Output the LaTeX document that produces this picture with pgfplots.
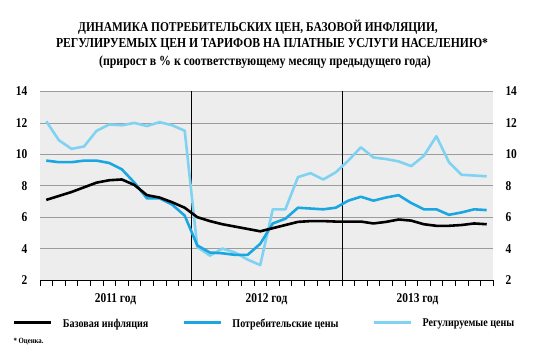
\documentclass[border=0pt]{standalone}
\usepackage{pgfplots}
\pgfplotsset{compat=1.18}
\usepackage{fontspec}
\setmainfont{Liberation Serif}[FakeStretch=0.85]
\definecolor{cpi}{HTML}{1AA7E1}
\definecolor{reg}{HTML}{80D2F2}
\definecolor{bg}{HTML}{EDEDED}
\definecolor{gridc}{HTML}{9C9C9C}
\begin{document}
\begin{tikzpicture}[font=\bfseries]
\path[use as bounding box] (0,0) rectangle (535bp,358bp);
\node[font=\bfseries\fontsize{13.5}{13.5}\selectfont] at (258bp,331bp)
 {ДИНАМИКА ПОТРЕБИТЕЛЬСКИХ ЦЕН, БАЗОВОЙ ИНФЛЯЦИИ,};
\node[font=\bfseries\fontsize{13.8}{13.8}\selectfont] at (272bp,314bp)
 {РЕГУЛИРУЕМЫХ ЦЕН И ТАРИФОВ НА ПЛАТНЫЕ УСЛУГИ НАСЕЛЕНИЮ*};
\node[font=\bfseries\fontsize{14}{14}\selectfont] at (265bp,296bp)
 {(прирост в \% к соответствующему месяцу предыдущего года)};
\node[anchor=west, font=\bfseries\fontsize{8}{8}\selectfont] at (10bp,16bp) {* Оценка.};
\begin{axis}[
  at={(40bp,78bp)}, anchor=south west,
  scale only axis, width=453bp, height=188.5bp,
  xmin=0, xmax=36, ymin=2, ymax=14,
  axis background/.style={fill=bg},
  axis x line*=bottom, axis y line*=left,
  x axis line style={black, line width=0.6pt, -},
  y axis line style={draw=none},
  ytick={2,4,...,14}, ytick style={draw=none},
  ymajorgrids, major grid style={gridc, line width=0.8pt},
  yticklabel style={font=\bfseries\fontsize{13.5}{13.5}\selectfont, xshift=-5bp},
  xtick={6,18,30}, xticklabels={2011 год,2012 год,2013 год},
  major x tick style={draw=none},
  minor xtick={0,1,...,36}, minor tick length=6bp,
  minor x tick style={black, line width=0.6pt},
  tick align=outside,
  xticklabel style={font=\bfseries\fontsize{13.5}{13.5}\selectfont, yshift=-6bp},
  /pgf/number format/assume math mode=true,
  extra x ticks={12,24}, extra x tick labels={},
  extra x tick style={xmajorgrids, major grid style={black, line width=0.7pt}, major tick length=0pt},
  clip=false,
  legend columns=3,
  legend style={at={(-0.0596,-0.228)}, anchor=west, draw=none, fill=none,
    inner sep=0pt, outer sep=0pt,
    font=\bfseries\fontsize{11.9}{11.9}\selectfont,
    /tikz/every odd column/.append style={column sep=10bp},
    /tikz/every even column/.append style={column sep=34bp},
    nodes={inner sep=0pt, outer sep=0pt, text depth=0pt}},
  legend image code/.code={\draw[#1, line width=3pt] (0bp,0bp) -- (37bp,0bp);},
  every axis plot/.append style={line width=2.6pt, line join=round},
]
\addlegendimage{black}\addlegendentry{Базовая инфляция}
\addlegendimage{cpi}\addlegendentry{Потребительские цены}
\addlegendimage{reg}\addlegendentry{Регулируемые цены}
\addplot[reg, mark=none, forget plot] coordinates {
(0.5,12.1)(1.5,10.9)(2.5,10.35)(3.5,10.5)(4.5,11.5)(5.5,11.9)(6.5,11.85)(7.5,12.0)(8.5,11.8)(9.5,12.05)(10.5,11.85)(11.5,11.5)
(12.5,4.1)(13.5,3.55)(14.5,4.0)(15.5,3.75)(16.5,3.3)(17.5,2.95)(18.5,6.5)(19.5,6.5)(20.5,8.55)(21.5,8.8)(22.5,8.4)(23.5,8.85)
(24.5,9.6)(25.5,10.45)(26.5,9.8)(27.5,9.7)(28.5,9.55)(29.5,9.25)(30.5,9.9)(31.5,11.15)(32.5,9.5)(33.5,8.7)(34.5,8.65)(35.5,8.6)};
\addplot[cpi, mark=none, forget plot] coordinates {
(0.5,9.6)(1.5,9.5)(2.5,9.5)(3.5,9.6)(4.5,9.6)(5.5,9.45)(6.5,9.05)(7.5,8.2)(8.5,7.2)(9.5,7.2)(10.5,6.8)(11.5,6.1)
(12.5,4.2)(13.5,3.75)(14.5,3.7)(15.5,3.6)(16.5,3.6)(17.5,4.3)(18.5,5.6)(19.5,5.9)(20.5,6.6)(21.5,6.55)(22.5,6.5)(23.5,6.6)
(24.5,7.05)(25.5,7.3)(26.5,7.05)(27.5,7.25)(28.5,7.4)(29.5,6.9)(30.5,6.5)(31.5,6.5)(32.5,6.15)(33.5,6.3)(34.5,6.5)(35.5,6.45)};
\addplot[black, mark=none, forget plot] coordinates {
(0.5,7.1)(1.5,7.35)(2.5,7.6)(3.5,7.9)(4.5,8.2)(5.5,8.35)(6.5,8.4)(7.5,8.05)(8.5,7.4)(9.5,7.25)(10.5,6.95)(11.5,6.6)
(12.5,6.0)(13.5,5.75)(14.5,5.55)(15.5,5.4)(16.5,5.25)(17.5,5.1)(18.5,5.3)(19.5,5.5)(20.5,5.7)(21.5,5.75)(22.5,5.75)(23.5,5.72)
(24.5,5.72)(25.5,5.72)(26.5,5.6)(27.5,5.7)(28.5,5.85)(29.5,5.78)(30.5,5.55)(31.5,5.45)(32.5,5.45)(33.5,5.5)(34.5,5.6)(35.5,5.55)};
\end{axis}
\begin{axis}[
  at={(40bp,78bp)}, anchor=south west,
  scale only axis, width=453bp, height=188.5bp,
  xmin=0, xmax=36, ymin=2, ymax=14,
  axis y line*=right, axis x line=none,
  y axis line style={draw=none},
  ytick={2,4,...,14}, ytick style={draw=none},
  yticklabel style={font=\bfseries\fontsize{13.5}{13.5}\selectfont, xshift=9bp},
  /pgf/number format/assume math mode=true,
]
\end{axis}
\end{tikzpicture}
\end{document}
